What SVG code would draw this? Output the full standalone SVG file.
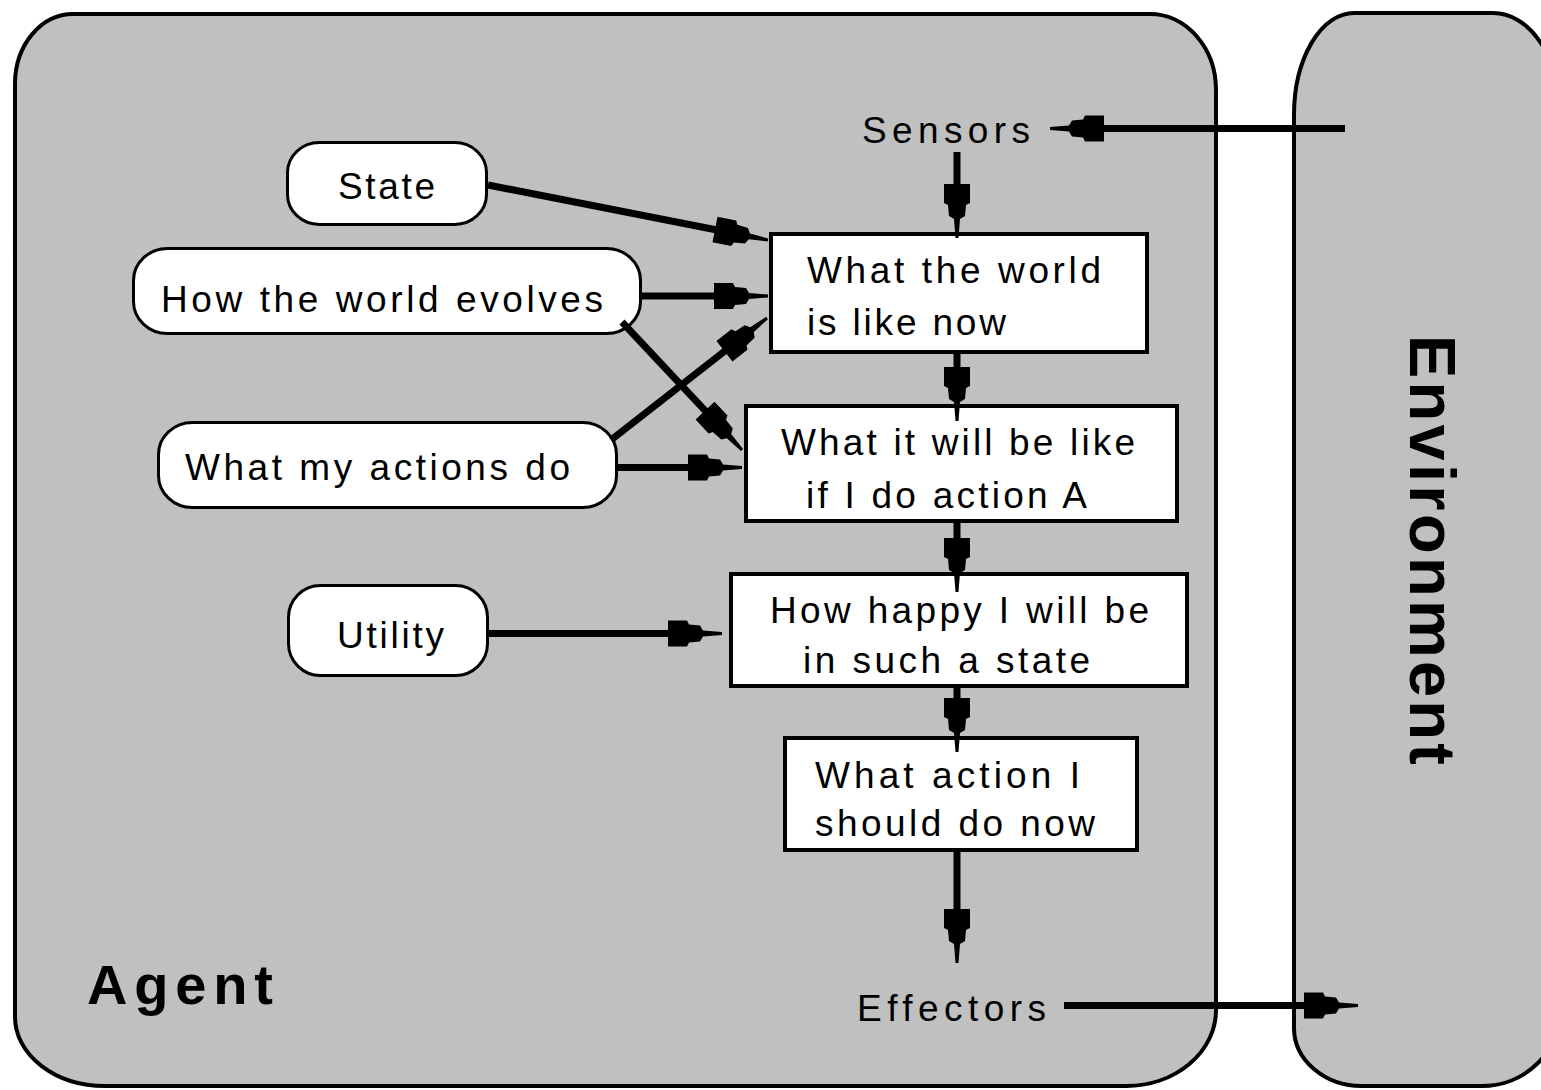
<svg xmlns="http://www.w3.org/2000/svg" xmlns:xlink="http://www.w3.org/1999/xlink" width="1541" height="1090" viewBox="0 0 1541 1090">
<style>
.panel{fill:#c0c0c0;stroke:#000;stroke-width:4}
.box{fill:#fff;stroke:#000;stroke-width:4}
.pill{fill:#fff;stroke:#000;stroke-width:3}
.t{font-family:"Liberation Sans",Arial,sans-serif;font-size:37px;fill:#000}
.big{font-family:"Liberation Sans",Arial,sans-serif;font-weight:bold;fill:#000}
.ln{stroke:#000;stroke-width:7;fill:none}
</style>
<defs>
<polygon id="head" points="0,-1.5 -19,-3 -22,-8 -33,-9 -35,-13 -54,-13 -54,13 -35,13 -33,9 -22,8 -19,3 0,1.5" fill="#000"/>
</defs>
<rect width="1541" height="1090" fill="#fff"/>
<g id="agent">
<path class="panel" d="M15,83 A58,70 0 0 1 73,14 L1150,14 A66,76 0 0 1 1216,90 L1216,1010 A90,76 0 0 1 1126,1086 L105,1086 A90,69 0 0 1 15,1017 Z"/>
<text class="big" x="87" y="1004" font-size="56" textLength="186" lengthAdjust="spacing">Agent</text>
</g>
<g id="environment">
<path class="panel" d="M1294,115 A60,102 0 0 1 1354,13 L1493,13 A67,100 0 0 1 1560,113 L1560,1010 A78,76 0 0 1 1482,1086 L1362,1086 A68,58 0 0 1 1294,1028 Z"/>
<text class="big" transform="translate(1410,335) rotate(90)" font-size="65" textLength="430" lengthAdjust="spacing">Environment</text>
</g>
<g id="sensors"><text class="t" x="862" y="143" textLength="168" lengthAdjust="spacing">Sensors</text></g>
<g id="effectors"><text class="t" x="857" y="1021" textLength="189" lengthAdjust="spacing">Effectors</text></g>
<g id="state">
<rect class="pill" x="287.5" y="142.5" width="199" height="82" rx="32" ry="30"/>
<text class="t" x="338" y="199" textLength="97" lengthAdjust="spacing">State</text>
</g>
<g id="world-evolves">
<rect class="pill" x="133.5" y="248.5" width="507" height="85" rx="34" ry="32"/>
<text class="t" x="161" y="312" textLength="442" lengthAdjust="spacing">How the world evolves</text>
</g>
<g id="actions-do">
<rect class="pill" x="158.5" y="422.5" width="458" height="85" rx="34" ry="32"/>
<text class="t" x="185" y="480" textLength="385" lengthAdjust="spacing">What my actions do</text>
</g>
<g id="utility">
<rect class="pill" x="288.5" y="585.5" width="199" height="90" rx="32" ry="32"/>
<text class="t" x="337" y="648" textLength="107" lengthAdjust="spacing">Utility</text>
</g>
<g id="world-now">
<rect class="box" x="771" y="234" width="376" height="118"/>
<text class="t" x="807" y="283" textLength="294" lengthAdjust="spacing">What the world</text>
<text class="t" x="807" y="335" textLength="199" lengthAdjust="spacing">is like now</text>
</g>
<g id="action-result">
<rect class="box" x="746" y="406" width="431" height="115"/>
<text class="t" x="781" y="455" textLength="354" lengthAdjust="spacing">What it will be like</text>
<text class="t" x="806" y="508" textLength="281" lengthAdjust="spacing">if I do action A</text>
</g>
<g id="happiness">
<rect class="box" x="731" y="574" width="456" height="112"/>
<text class="t" x="770" y="623" textLength="379" lengthAdjust="spacing">How happy I will be</text>
<text class="t" x="803" y="673" textLength="287" lengthAdjust="spacing">in such a state</text>
</g>
<g id="decision">
<rect class="box" x="785" y="738" width="352" height="112"/>
<text class="t" x="815" y="788" textLength="265" lengthAdjust="spacing">What action I</text>
<text class="t" x="815" y="836" textLength="280" lengthAdjust="spacing">should do now</text>
</g>
<g id="connectors">
<line class="ln" x1="1345" y1="128.5" x2="1080" y2="128.5"/>
<use xlink:href="#head" href="#head" transform="translate(1050,128.5) rotate(180)"/>
<line class="ln" x1="957" y1="152" x2="957" y2="208"/>
<use xlink:href="#head" href="#head" transform="translate(957,238) rotate(90)"/>
<line class="ln" x1="488" y1="185" x2="738.6" y2="234.2" stroke-width="6"/>
<use xlink:href="#head" href="#head" transform="translate(768,240) rotate(11.1)"/>
<line class="ln" x1="641" y1="296" x2="738" y2="296"/>
<use xlink:href="#head" href="#head" transform="translate(768,296) rotate(0)"/>
<line class="ln" x1="622" y1="322" x2="721.5" y2="428.1" stroke-width="9"/>
<use xlink:href="#head" href="#head" transform="translate(742,450) rotate(46.8)"/>
<line class="ln" x1="611" y1="440" x2="743.4" y2="336.5" stroke-width="7"/>
<use xlink:href="#head" href="#head" transform="translate(767,318) rotate(-38)"/>
<line class="ln" x1="617" y1="467.5" x2="712" y2="467.5"/>
<use xlink:href="#head" href="#head" transform="translate(742,467.5) rotate(0)"/>
<line class="ln" x1="488" y1="633.5" x2="692" y2="633.5"/>
<use xlink:href="#head" href="#head" transform="translate(722,633.5) rotate(0)"/>
<line class="ln" x1="957" y1="352" x2="957" y2="391"/>
<use xlink:href="#head" href="#head" transform="translate(957,421) rotate(90)"/>
<line class="ln" x1="957" y1="521" x2="957" y2="562"/>
<use xlink:href="#head" href="#head" transform="translate(957,592) rotate(90)"/>
<line class="ln" x1="957" y1="686" x2="957" y2="722"/>
<use xlink:href="#head" href="#head" transform="translate(957,752) rotate(90)"/>
<line class="ln" x1="957" y1="850" x2="957" y2="933"/>
<use xlink:href="#head" href="#head" transform="translate(957,963) rotate(90)"/>
<line class="ln" x1="1064" y1="1005.5" x2="1328" y2="1005.5"/>
<use xlink:href="#head" href="#head" transform="translate(1358,1005.5) rotate(0)"/>
</g>
</svg>
